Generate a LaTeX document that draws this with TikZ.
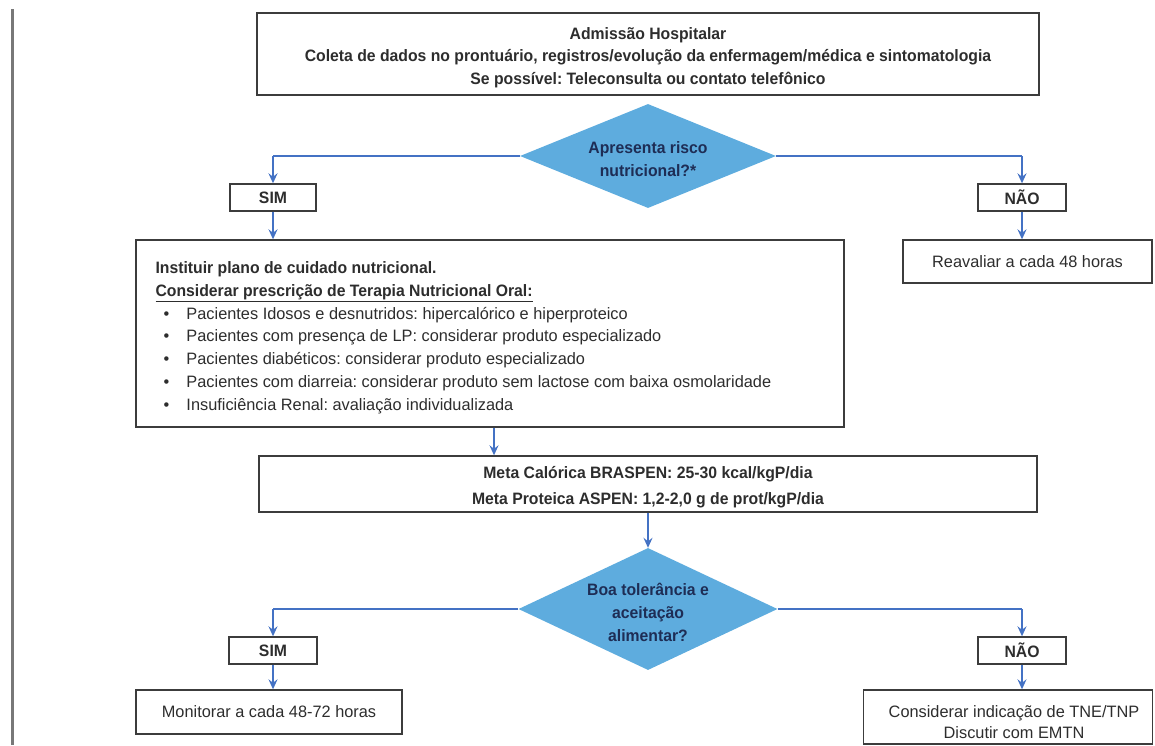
\documentclass[tikz,border=0pt]{standalone}
\usepackage{fontspec}
\setmainfont{Liberation Sans}[UprightFeatures={FakeStretch=0.99}, BoldFeatures={FakeStretch=0.955}]
\usetikzlibrary{arrows.meta,shapes.geometric,positioning}
\definecolor{flowblue}{RGB}{68,114,196}
\definecolor{decisionblue}{RGB}{94,172,222}
\definecolor{boxgray}{RGB}{60,60,60}
\definecolor{textgray}{RGB}{45,45,45}
\definecolor{navytext}{RGB}{30,45,85}
\definecolor{bargray}{RGB}{120,120,120}
\frenchspacing

\begin{document}
\begin{tikzpicture}[x=1pt,y=-1pt,
font=\fontsize{16.5}{22.5}\selectfont, text=textgray,
box/.style ={rectangle, draw=boxgray, line width=1.4pt, inner sep=0pt, align=center},
decision/.style ={diamond, fill=decisionblue, inner sep=0pt},
mtext/.style ={align=center, inner sep=0pt, yshift=-3pt},
dtext/.style ={mtext, text=navytext, font=\fontsize{16.5}{23}\selectfont\bfseries},
tag/.style ={box, minimum height=27pt, font=\fontsize{16.5}{20}\selectfont\bfseries},
link/.style ={draw=flowblue, line width=1.1pt},
flow/.style ={-{Stealth[length=10pt,width=9pt,inset=3.5pt]}, draw=flowblue, line width=1.7pt}]
\useasboundingbox (0,0) rectangle (1155,745);
\draw[bargray, line width=3pt] (12.5,9) -- (12.5,745);

\node[box, minimum width=782pt, minimum height=82pt,
 label={[mtext, yshift=-0.5pt, font=\fontsize{16.5}{22.6}\selectfont\bfseries]center:{Admissão Hospitalar\\Coleta de dados no prontuário, registros/evolução da enfermagem/médica e sintomatologia\\Se possível: Teleconsulta ou contato telefônico}}] (adm) at (648,54) {};
\node[decision, minimum width=256pt, minimum height=104pt,
 label={[dtext, yshift=-0.5pt]center:{Apresenta risco\\nutricional?*}}] (risco) at (648,156) {};
\node[tag, minimum width=86pt] (sim1) at (273,197.5) {SIM};
\node[tag, minimum width=88pt] (nao1) at (1022,197.5) {NÃO};
\node[box, minimum width=249pt, minimum height=43pt] (reav) at (1027.5,261.5) {Reavaliar a cada 48 horas};
\node[box, minimum width=708pt, minimum height=187pt] (plano) at (490,333.5) {};
\node[anchor=north west, inner sep=0pt, align=left, font=\fontsize{16.5}{22.8}\selectfont] (planotxt)
 at ([shift={(20,22)}]plano.north west)
 {\textbf{Instituir plano de cuidado nutricional.}\\
  \textbf{\underline{Considerar prescrição de Terapia Nutricional Oral:}}\\
  \makebox[31pt][l]{\hspace{8pt}\textbullet}Pacientes Idosos e desnutridos: hipercalórico e hiperproteico\\
  \makebox[31pt][l]{\hspace{8pt}\textbullet}Pacientes com presença de LP: considerar produto especializado\\
  \makebox[31pt][l]{\hspace{8pt}\textbullet}Pacientes diabéticos: considerar produto especializado\\
  \makebox[31pt][l]{\hspace{8pt}\textbullet}Pacientes com diarreia: considerar produto sem lactose com baixa osmolaridade\\
  \makebox[31pt][l]{\hspace{8pt}\textbullet}Insuficiência Renal: avaliação individualizada};
\node[box, minimum width=778pt, minimum height=56pt,
 label={[mtext, font=\fontsize{16.5}{26}\selectfont\bfseries]center:{Meta Calórica BRASPEN: 25-30 kcal/kgP/dia\\Meta Proteica ASPEN: 1,2-2,0 g de prot/kgP/dia}}] (meta) at (648,484) {};
\node[decision, minimum width=259pt, minimum height=122pt,
 label={[dtext]center:{Boa tolerância e\\aceitação\\alimentar?}}] (boa) at (648,609) {};
\node[tag, minimum width=88pt] (sim2) at (273,650.5) {SIM};
\node[tag, minimum width=88pt] (nao2) at (1022,650.5) {NÃO};
\node[box, minimum width=266pt, minimum height=44pt] (moni) at (269,712) {Monitorar a cada 48-72 horas};
\node[box, minimum width=289pt, minimum height=54pt,
 label={[mtext, yshift=-2pt, xshift=6pt, font=\fontsize{16.5}{21}\selectfont]center:{Considerar indicação de TNE/TNP\\Discutir com EMTN}}] (tne) at (1008,717) {};

\coordinate (drop) at (494,0);
% risco nutricional
\draw[link] (risco.west) -- (risco.west -| sim1);
\draw[flow] (risco.west -| sim1) -- (sim1.north);
\draw[flow] (sim1) -- (plano.north -| sim1);
\draw[link] (risco.east) -- (risco.east -| nao1);
\draw[flow] (risco.east -| nao1) -- (nao1.north);
\draw[flow] (nao1) -- (reav.north -| nao1);
\draw[flow] (plano.south -| drop) -- (meta.north -| drop);
\draw[flow] (meta) -- (boa);
% tolerancia
\draw[link] (boa.west) -- (boa.west -| sim2);
\draw[flow] (boa.west -| sim2) -- (sim2.north);
\draw[flow] (sim2) -- (moni.north -| sim2);
\draw[link] (boa.east) -- (boa.east -| nao2);
\draw[flow] (boa.east -| nao2) -- (nao2.north);
\draw[flow] (nao2) -- (tne.north -| nao2);

\end{tikzpicture}
\end{document}
